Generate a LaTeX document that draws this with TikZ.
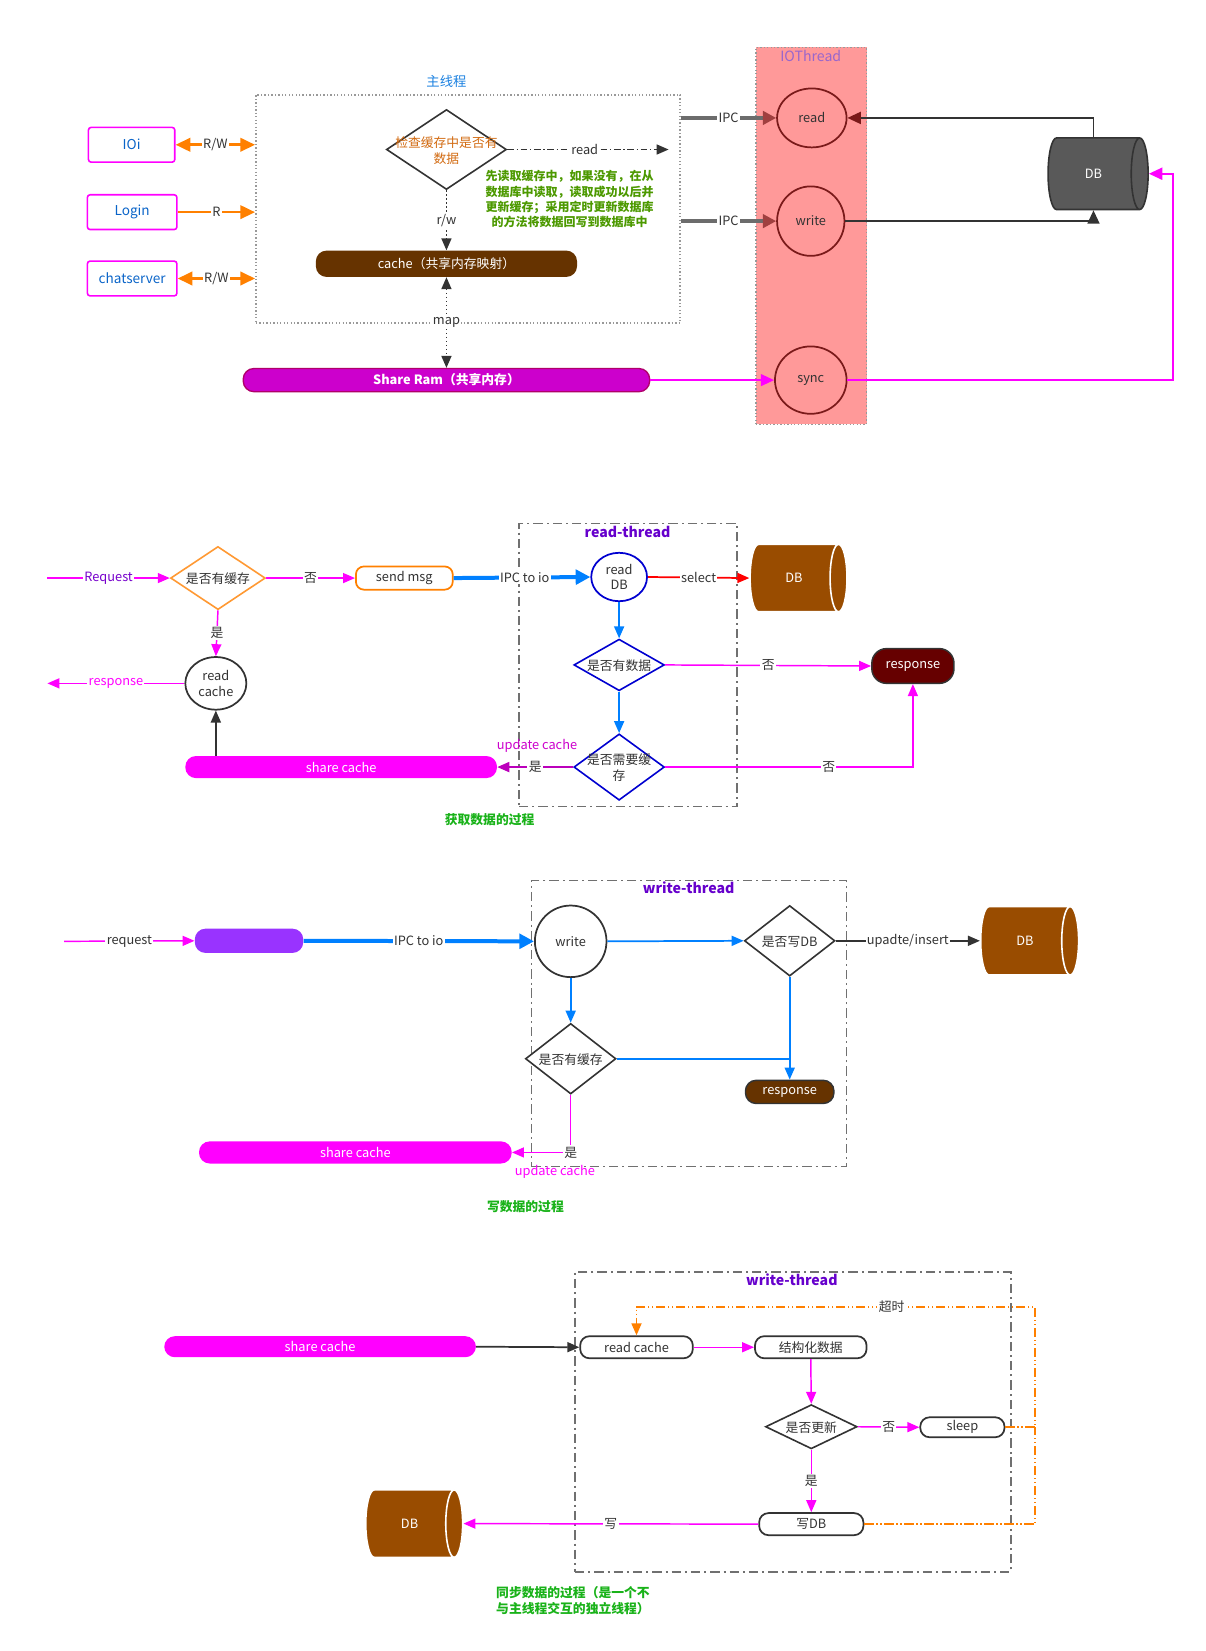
\documentclass[tikz,border=0pt]{standalone}
\usepackage{fontspec}
\setmainfont{Noto Sans CJK SC}
\usetikzlibrary{arrows.meta,shapes.geometric,calc}

\definecolor{txt}{HTML}{333333}
\definecolor{mag}{HTML}{FF00FF}
\definecolor{magdark}{HTML}{BB00BB}
\definecolor{orng}{HTML}{FF8000}
\definecolor{orlight}{HTML}{FF9933}
\definecolor{chktext}{HTML}{D26A10}
\definecolor{linkblue}{HTML}{0A64C8}
\definecolor{mainblue}{HTML}{1A80E0}
\definecolor{azure}{HTML}{0080FF}
\definecolor{deepblue}{HTML}{0000D0}
\definecolor{iopink}{HTML}{FF9999}
\definecolor{iored}{HTML}{7A1A1A}
\definecolor{ipcred}{HTML}{A04040}
\definecolor{iopurple}{HTML}{9966CC}
\definecolor{dbgray}{HTML}{595959}
\definecolor{dbbrown}{HTML}{994C00}
\definecolor{cachebrown}{HTML}{663300}
\definecolor{respred}{HTML}{660000}
\definecolor{ramfill}{HTML}{CC00CC}
\definecolor{ramedge}{HTML}{B0006A}
\definecolor{pillpurple}{HTML}{9933FF}
\definecolor{thpurple}{HTML}{6600CC}
\definecolor{reqpurple}{HTML}{7700CC}
\definecolor{notegreen}{HTML}{4C9900}
\definecolor{titlegreen}{HTML}{19B219}
\definecolor{boxgray}{HTML}{999999}
\definecolor{thgray}{HTML}{707070}

\newcommand\fs{\fontsize{9.6pt}{11.5pt}\selectfont}
% text set at the shape centre without widening the shape around it
\newcommand\zbox[1]{\makebox[0pt]{\smash{\raisebox{-0.45em}{\renewcommand\arraystretch{1.05}\begin{tabular}{@{}c@{}}#1\end{tabular}}}}}

\tikzset{
  every node/.style={font=\fs, text=txt, inner sep=0pt, align=center},
  sz/.style 2 args={minimum width=#1*0.79pt, minimum height=#2*0.79pt},
  lbl/.style={fill=white, inner sep=1pt},
  tip/.style={-{Triangle[length=9pt,width=7.5pt]}},
  bigtip/.style={-{Triangle[length=11pt,width=11pt]}},
  client/.style={draw=mag, line width=1.2pt, rounded corners=2pt, text=linkblue, font=\fontsize{10.2pt}{12pt}\selectfont},
  rw/.style={draw=orng, line width=2pt},
  dia/.style={diamond, draw=txt, fill=white, line width=1.2pt},
  pill/.style={rounded corners=8pt, text=white},
  rbox/.style={draw=txt, fill=white, line width=1.3pt, rounded corners=7pt},
  ell/.style={ellipse, line width=1.3pt},
  cyl/.style 2 args={cylinder, shape border rotate=0, aspect=1.8,
     minimum height=#1*0.79pt, minimum width=#2*0.79pt, text=white, line width=1.2pt},
  mline/.style={draw=mag, line width=1.1pt},
  bline/.style={draw=azure, line width=1.3pt},
  ipcblue/.style={draw=azure, line width=3pt},
  ipcgray/.style={draw=gray!85!black, line width=2.5pt},
  dotbox/.style={draw=boxgray, line width=1.2pt, dash pattern=on 1pt off 1.6pt},
  thbox/.style={draw=thgray, line width=1.1pt, dash pattern=on 7pt off 3pt on 1.5pt off 3pt},
  ordash/.style={draw=orng, line width=1.3pt, dash pattern=on 7pt off 2pt on 1pt off 2pt on 1pt off 2pt},
  thlabel/.style={text=thpurple, font=\fontsize{10.6pt}{12pt}\selectfont\bfseries},
  ttl/.style={text=titlegreen, font=\fontsize{9.6pt}{12pt}\selectfont\bfseries},
}

\begin{document}
\begin{tikzpicture}[x=0.79pt,y=-0.79pt]
\useasboundingbox (0,0) rectangle (1145,1568);

% ---------------- main thread and IO thread ----------------
\node (tmain) at (424,77) [text=mainblue, font=\fontsize{10pt}{11pt}\selectfont] {主线程};
\node[dotbox, sz={403}{217}] (mainbox) at (444.5,198.5) {};

\node[client, sz={82}{33}] (ioi) at (125,137.5) {IOi};
\node[client, sz={85}{33}] (login) at (125.5,201.5) {Login};
\node[client, sz={85}{33}] (chat) at (125.5,264.5) {chatserver};

\draw[rw, {Triangle[length=11pt,width=10pt]}-{Triangle[length=11pt,width=10pt]}]
  (ioi.east) -- node[lbl]{R/W} (ioi.east -| mainbox.west);
\draw[rw, -{Triangle[length=11pt,width=10pt]}]
  (login.east) -- node[lbl]{R} (login.east -| mainbox.west);
\draw[rw, {Triangle[length=11pt,width=10pt]}-{Triangle[length=11pt,width=10pt]}]
  (chat.east) -- node[lbl]{R/W} (chat.east -| mainbox.west);

\node[dia, sz={114}{76}] (chk) at (424,142)
  {\zbox{\textcolor{chktext}{检查缓存中是否有}\\\textcolor{chktext}{数据}}};
\coordinate (readend) at (635,142);
\draw[draw=txt, line width=1.2pt, dash pattern=on 5pt off 2pt on 1pt off 2pt, tip]
  (chk.east) -- node[lbl, pos=0.48]{read} (readend);

\node (note) at (541,189) [text=notegreen, font=\fontsize{9pt}{11.3pt}\selectfont\bfseries]
  {先读取缓存中，如果没有，在从\\数据库中读取，读取成功以后并\\更新缓存；采用定时更新数据库\\的方法将数据回写到数据库中};

\node[pill, fill=cachebrown, sz={248}{25}] (cache) at (424,250.5) {cache（共享内存映射）};
\draw[draw=txt, line width=1.2pt, dash pattern=on 1pt off 2pt, tip]
  (chk.south) -- node[lbl]{r/w} (cache.north);

\node[pill, fill=ramfill, draw=ramedge, line width=1pt, sz={386}{22}] (ram) at (424,361)
  {\bfseries Share Ram（共享内存）};
\draw[draw=txt, line width=1.2pt, dash pattern=on 1pt off 2pt, {Triangle[length=9pt,width=7.5pt]}-{Triangle[length=9pt,width=7.5pt]}]
  (cache.south) -- node[lbl]{map} (ram.north);

\node[draw=boxgray, fill=iopink, line width=1pt, dash pattern=on 1pt off 1.6pt, sz={105}{358}] (iobox) at (770.5,224) {};
\node (tio) at (770,53) [text=iopurple, font=\fontsize{10.6pt}{12pt}\selectfont] {IOThread};

\node[ell, draw=iored, fill=iopink, sz={66}{56}] (rd) at (771,112) {read};
\node[ell, draw=iored, fill=iopink, sz={64}{66}] (wr) at (770,210) {write};
\node[ell, draw=iored, fill=iopink, sz={68}{64}] (sy) at (770,361) {sync};

\draw[ipcgray, -{Triangle[length=10pt,width=10pt,color=ipcred]}]
  (rd.west -| mainbox.east) -- node[lbl]{IPC} (rd.west);
\draw[ipcgray, -{Triangle[length=10pt,width=10pt,color=ipcred]}]
  (wr.west -| mainbox.east) -- node[lbl]{IPC} (wr.west);
\draw[mline, -{Triangle[length=10pt,width=9pt]}] (ram.east) -- (sy.west);

\node[cyl={95}{68}, fill=dbgray, draw=txt] (db1) at (1038.5,165) {DB};
\draw[draw=txt, line width=1.3pt, -{Triangle[length=10pt,width=9pt,color=iored]}]
  (db1.north) |- (rd.east);
\draw[draw=txt, line width=1.3pt, -{Triangle[length=10pt,width=9pt]}]
  (wr.east) -| (db1.south);
\draw[mline, line width=1.3pt, -{Triangle[length=10pt,width=9pt]}]
  (sy.east) -| (1114,250) |- (db1.east);

% ---------------- reading data ----------------
\node[thbox, sz={207}{269}] (rtbox) at (596.5,631.5) {};
\node[thlabel] (trt) at (596,505) {read-thread};

\coordinate (req1) at (45,549);
\node[dia, draw=orlight, sz={90}{60}] (c1) at (207,549) {\zbox{是否有缓存}};
\draw[mline, tip] (req1) -- node[lbl, text=reqpurple]{Request} (c1.west);
\node[draw=orng, fill=white, line width=1.3pt, rounded corners=6pt, sz={92}{22}] (sm) at (384,549) {send msg};
\draw[mline, tip] (c1.east) -- node[lbl]{否} (sm.west);

\node[ell, draw=deepblue, fill=white, sz={53}{46}] (rdb) at (588,548) {read\\DB};
\draw[ipcblue, bigtip] (sm.east) -- node[lbl, pos=0.52]{IPC to io} (rdb.west);

\node[cyl={92}{64}, fill=dbbrown, draw=white] (db2) at (754,549) {DB};
\draw[draw=red, line width=1.3pt, tip] (rdb.east) -- node[lbl]{select} (db2.west);

\node[dia, draw=deepblue, sz={86}{49}] (d2) at (588,631.5) {\zbox{是否有数据}};
\node[dia, draw=deepblue, sz={86}{63}] (d3) at (588,728.5) {\zbox{是否需要缓\\存}};
\draw[bline, tip] (rdb.south) -- (d2.north);
\draw[bline, tip] (d2.south) -- (d3.north);

\node[pill, fill=respred, draw=txt, line width=1.1pt, rounded corners=11pt, sz={78}{33}] (resp1) at (867,632.5) {response};
\draw[mline, tip] (d2.east) -- node[lbl]{否} (resp1.west);
\draw[mline, tip] (d3.east) -| node[lbl, pos=0.33]{否} (resp1.south);

\node[pill, fill=mag, sz={296}{21}] (sc1) at (324,728.5) {share cache};
\draw[draw=magdark, line width=1.3pt, tip] (d3.west) -- node[lbl]{是} (sc1.east);
\node (upd1) at (510,708) [text=ramfill] {update cache};

\node[ell, draw=txt, fill=white, sz={58}{50}] (rc) at (205,649) {read\\cache};
\draw[mline, tip] (c1.south) -- node[lbl]{是} (rc.north);
\draw[draw=txt, line width=1.3pt, tip] (rc.south |- sc1.north) -- (rc.south);
\coordinate (resp0) at (45,649);
\draw[mline, tip] (rc.west) -- node[lbl, text=mag]{response} (resp0);

\node[ttl] (t2) at (465,778) {获取数据的过程};

% ---------------- writing data ----------------
\node[thbox, sz={299}{272}] (wtbox) at (654.5,972) {};
\node[thlabel] (twt) at (654,843) {write-thread};

\coordinate (req2) at (61,894);
\node[pill, fill=pillpurple, sz={103}{23}] (pp) at (236.5,893.5) {};
\draw[mline, tip] (req2) -- node[lbl]{request} (pp.west);

\node[ell, draw=txt, fill=white, sz={68}{68}] (wc) at (542,894) {write};
\draw[ipcblue, bigtip] (pp.east) -- node[lbl, pos=0.5]{IPC to io} (wc.west);

\node[dia, sz={86}{67}] (d4) at (750,893.5) {\zbox{是否写DB}};
\draw[bline, tip] (wc.east) -- (d4.west);
\node[cyl={93}{65}, fill=dbbrown, draw=white] (db3) at (973.5,893.5) {DB};
\draw[draw=txt, line width=1.3pt, tip] (d4.east) -- node[lbl]{upadte/insert} (db3.west);

\node[dia, sz={86}{67}] (d5) at (542,1005.5) {\zbox{是否有缓存}};
\draw[bline, tip] (wc.south) -- (d5.north);

\node[pill, fill=cachebrown, draw=txt, line width=1.1pt, sz={84}{22}] (resp2) at (750,1037) {response};
\draw[bline, tip] (d4.south) -- (resp2.north);
\draw[bline] (d5.east) -- (d5.east -| resp2.north);

\node[pill, fill=mag, sz={297}{21}] (sc2) at (337.5,1094.5) {share cache};
\draw[mline, tip] (d5.south) |- node[lbl]{是} (sc2.east);
\node (upd2) at (527,1113) [text=mag] {update cache};

\node[ttl] (t3) at (499,1146) {写数据的过程};

% ---------------- syncing data ----------------
\node[thbox, sz={414}{285}] (stbox) at (753,1350.5) {};
\node[thlabel] (tst) at (752,1215) {write-thread};

\node[pill, fill=mag, sz={296}{20}] (sc3) at (304,1279) {share cache};
\node[rbox, sz={107}{21}] (rc2) at (604.5,1279.5) {read cache};
\draw[draw=txt, line width=1.3pt, tip] (sc3.east) -- (rc2.west);
\node[rbox, sz={106}{21}] (st) at (770,1279.5) {结构化数据};
\draw[mline, tip] (rc2.east) -- (st.west);
\node[dia, sz={87}{42}] (d6) at (770.5,1355) {\zbox{是否更新}};
\draw[mline, tip] (st.south) -- (d6.north);
\node[rbox, sz={80}{19}] (sl) at (914,1355.5) {sleep};
\draw[mline, tip] (d6.east) -- node[lbl]{否} (sl.west);
\node[rbox, sz={99}{21}] (wdb) at (770.5,1447.5) {写DB};
\draw[mline, tip] (d6.south) -- node[lbl]{是} (wdb.north);
\node[cyl={92}{64}, fill=dbbrown, draw=white] (db4) at (389,1447) {DB};
\draw[mline, tip] (wdb.west) -- node[lbl]{写} (db4.east);

\draw[ordash, -{Triangle[length=9pt,width=7.5pt,color=orng]}]
  (sl.east) -| (983,1241) -| node[lbl, pos=0.18]{超时} (rc2.north);
\draw[ordash] (wdb.east) -| (983,1355);

\node[ttl, align=left, anchor=north west] (t4) at (471,1506)
  {同步数据的过程（是一个不\\与主线程交互的独立线程）};

\end{tikzpicture}
\end{document}
